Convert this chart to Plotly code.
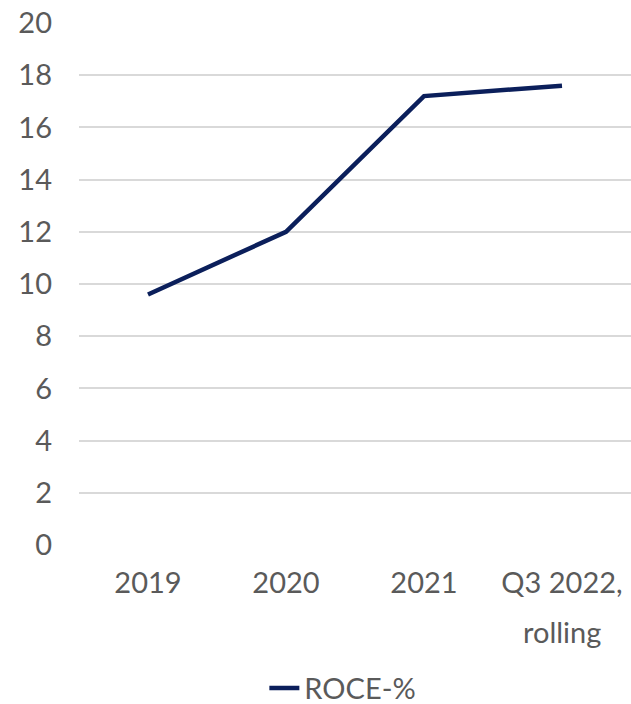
import plotly.graph_objects as go

# Return on capital employed by period
categories = ["2019", "2020", "2021", "Q3 2022,"]
category_note = {"Q3 2022,": "rolling"}
roce = [9.6, 12.0, 17.2, 17.6]
y_ticks = [0, 2, 4, 6, 8, 10, 12, 14, 16, 18, 20]

navy = "#0b1f5b"
text_grey = "#5a5a5a"
grid_grey = "#d9d9d9"
font_size = 29

fig = go.Figure()
fig.add_trace(go.Scatter(
    x=categories,
    y=roce,
    mode="lines",
    name="ROCE-%",
    line=dict(color=navy, width=4.5),
))

# second line of the last category label
for cat, note in category_note.items():
    fig.add_annotation(
        x=cat, xref="x",
        y=-0.165, yref="paper",
        text=note, showarrow=False,
        yanchor="middle",
        font=dict(size=font_size, color=text_grey),
    )

fig.update_layout(
    width=631,
    height=704,
    margin=dict(l=79, r=0, t=23, b=159, autoexpand=False),
    paper_bgcolor="white",
    plot_bgcolor="white",
    font=dict(family="Lato, Calibri, sans-serif", size=font_size, color=text_grey),
    showlegend=True,
    legend=dict(
        orientation="h",
        x=0.478,
        xanchor="center",
        y=-0.274,
        yanchor="middle",
        font=dict(size=font_size, color=text_grey),
    ),
    xaxis=dict(
        type="category",
        range=[-0.5, 3.5],
        showgrid=False,
        showline=False,
        zeroline=False,
        ticks="",
        ticklabelstandoff=18,
    ),
    yaxis=dict(
        range=[0, 20],
        tickvals=y_ticks,
        showgrid=True,
        gridcolor=grid_grey,
        gridwidth=1.5,
        zeroline=False,
        showline=False,
        ticks="",
        ticklabelstandoff=26,
    ),
)

fig.write_html("out.html")
